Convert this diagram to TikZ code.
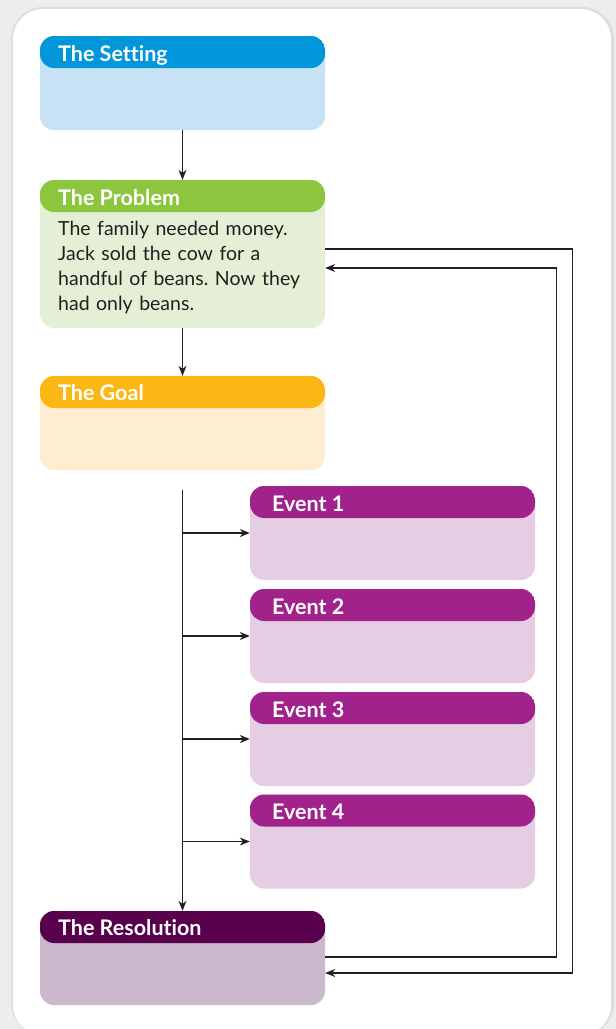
\documentclass[tikz,border=0pt]{standalone}
\usepackage{fontspec}
\setmainfont{Lato}[Ligatures=NoCommon]
\usetikzlibrary{calc,arrows.meta}
\definecolor{bg}{HTML}{EDEDED}
\definecolor{shad}{HTML}{DDDDDD}
\definecolor{setH}{HTML}{0096D9}\definecolor{setB}{HTML}{C6E2F4}
\definecolor{proH}{HTML}{8CC63E}\definecolor{proB}{HTML}{E4EFD5}
\definecolor{goaH}{HTML}{FDB714}\definecolor{goaB}{HTML}{FEEDD0}
\definecolor{evH}{HTML}{A1228B}\definecolor{evB}{HTML}{E5CDE3}
\definecolor{resH}{HTML}{58004B}\definecolor{resB}{HTML}{CBB8CC}
\definecolor{ink}{HTML}{231F20}
\tikzset{
  card/.style n args={3}{rounded corners=14pt, fill=#2, minimum width=285pt, minimum height=#3, inner sep=0pt,
    path picture={\fill[#1] (path picture bounding box.north west) rectangle ([yshift=-32pt]path picture bounding box.north east);}},
  headtext/.style={anchor=west, text=white, font=\bfseries\fontsize{21.5}{24}\selectfont, inner sep=0pt},
  bodytext/.style={anchor=north west, text=ink, font=\frenchspacing\fontsize{19.5}{25}\selectfont, align=left, inner sep=0pt, text width=265pt},
  arr/.style={draw=ink, line width=1.2pt, -{Stealth[length=10pt,width=8pt]}},
}
\begin{document}
\begin{tikzpicture}[x=1pt,y=-1pt]
\useasboundingbox (0,0) rectangle (616,1029);
\fill[bg] (0,0) rectangle (616,1029);
\fill[shad, rounded corners=32pt] (11,7) rectangle (614,1035);
\fill[white, rounded corners=30pt] (13,9) rectangle (611,1035);

% boxes
\node[card={setH}{setB}{94pt}] (setting) at (182.5,83) {};
\node[headtext] (settingT) at (58,55) {The Setting};
\node[card={proH}{proB}{148pt}] (problem) at (182.5,254) {};
\node[headtext] (problemT) at (58,198) {The Problem};
\node[bodytext] (problemB) at (58,221) {The family needed money.\\ Jack sold the cow for a\\ handful of beans. Now they\\ had only beans.};
\node[card={goaH}{goaB}{94pt}] (goal) at (182.5,423) {};
\node[headtext] (goalT) at (58,393) {The Goal};
\node[card={evH}{evB}{94pt}] (ev1) at (392.5,533) {};
\node[headtext] (ev1T) at (272,504) {Event 1};
\node[card={evH}{evB}{94pt}] (ev2) at (392.5,636) {};
\node[headtext] (ev2T) at (272,607) {Event 2};
\node[card={evH}{evB}{94pt}] (ev3) at (392.5,739) {};
\node[headtext] (ev3T) at (272,710) {Event 3};
\node[card={evH}{evB}{94pt}] (ev4) at (392.5,841.5) {};
\node[headtext] (ev4T) at (272,812) {Event 4};
\node[card={resH}{resB}{94pt}] (resolution) at (182.5,958) {};
\node[headtext] (resolutionT) at (58,928) {The Resolution};

% connectors
\draw[arr] (setting.south) -- (problem.north);
\draw[arr] (problem.south) -- (goal.north);
\coordinate (trunk) at (182.5,490);
\draw[arr] (trunk) -- (resolution.north);
\foreach \e in {ev1,ev2,ev3,ev4}
  \draw[arr] (trunk |- \e.west) -- (\e.west);
\draw[arr] ($(problem.east)+(0,-5)$) -- ++(247,0) |- ($(resolution.east)+(0,15)$);
\draw[arr] ($(resolution.east)+(0,-1)$) -- ++(231,0) |- ($(problem.east)+(0,14)$);
\end{tikzpicture}
\end{document}
